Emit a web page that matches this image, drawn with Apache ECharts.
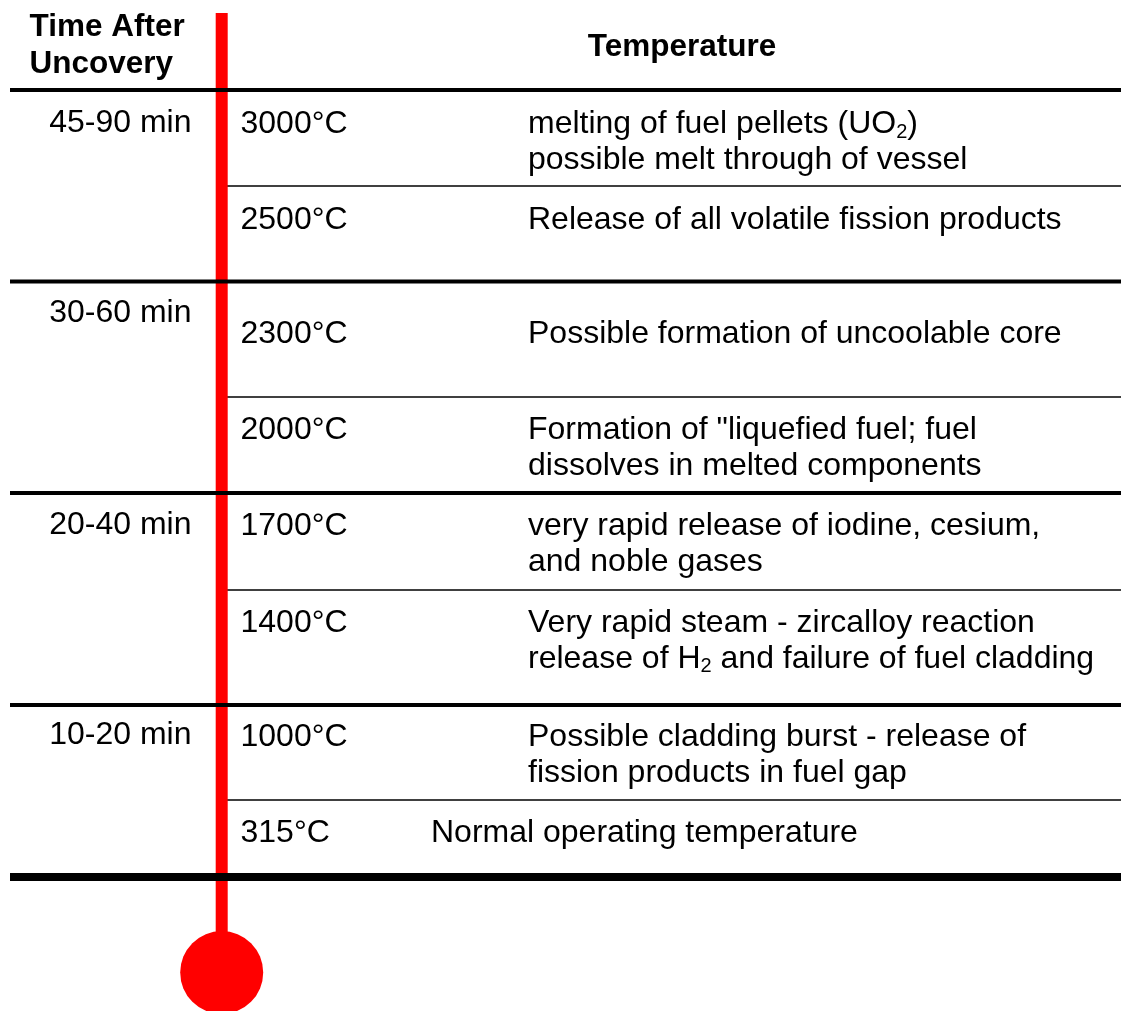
<!DOCTYPE html>
<html>
<head>
<meta charset="utf-8">
<title>Fuel temperature after core uncovery</title>
<script src="https://cdn.jsdelivr.net/npm/echarts@6/dist/echarts.min.js"></script>
<style>
  html, body { margin: 0; padding: 0; background: #fff; }
  #chart { width: 1121px; height: 1011px; }
</style>
</head>
<body>
<div id="chart"></div>
<script>
// table content
const timeRanges = ['45-90 min', '30-60 min', '20-40 min', '10-20 min']
const temperatures = ['3000°C', '2500°C', '2300°C', '2000°C', '1700°C', '1400°C', '1000°C', '315°C']
const descriptions = [
  'melting of fuel pellets (UO{sub|2})\npossible melt through of vessel',
  'Release of all volatile fission products',
  'Possible formation of uncoolable core',
  'Formation of "liquefied fuel; fuel\ndissolves in melted components',
  'very rapid release of iodine, cesium,\nand noble gases',
  'Very rapid steam - zircalloy reaction\nrelease of H{sub|2} and failure of fuel cladding',
  'Possible cladding burst - release of\nfission products in fuel gap',
  'Normal operating temperature'
]
const headers = ['Time After\nUncovery', 'Temperature']

// layout (canvas units, the axes map 1:1 onto the page)
const W = 1121, H = 1011
const rowTops = [90, 186, 281.5, 397, 493, 590, 705, 800]
const tableBottom = 877
const rowTextY = [122, 218, 332, 428, 524, 621, 735, 831]
const groupTextY = [120.5, 311, 522.5, 733]
const descX = [528, 528, 528, 528, 528, 528, 528, 431]
const lineGap = 35.5
const textShift = 2.5 // glyph centre sits a little above the 'middle' line

const font = '"Liberation Sans", Arial, Helvetica, sans-serif'
const subStyle = { fontSize: 20, lineHeight: 19, verticalAlign: 'bottom', fontFamily: font, fill: '#000' }

function textEl(api, x, y, text, extra) {
  const p = api.coord([x, y + textShift])
  return {
    type: 'text',
    x: p[0],
    y: p[1],
    style: Object.assign({
      text: text,
      fill: '#000',
      fontFamily: font,
      fontSize: 32,
      lineHeight: lineGap,
      align: 'left',
      verticalAlign: 'top'
    }, extra || {})
  }
}

function hLine(api, x0, x1, y, width) {
  const a = api.coord([x0, y])
  const b = api.coord([x1, y])
  return {
    type: 'line',
    shape: { x1: a[0], y1: a[1], x2: b[0], y2: b[1] },
    style: { stroke: '#000', lineWidth: width }
  }
}

const chart = echarts.init(document.getElementById('chart'))

chart.setOption({
  animation: false,
  backgroundColor: '#fff',
  grid: { left: 0, right: 0, top: 0, bottom: 0 },
  xAxis: { type: 'value', min: 0, max: W, show: false },
  yAxis: { type: 'value', min: 0, max: H, inverse: true, show: false },
  series: [
    {
      // thin rules between rows inside a time group
      type: 'custom',
      z: 1,
      data: rowTops.filter((y, i) => i % 2 === 1).map(y => [222, y]),
      renderItem(params, api) {
        return hLine(api, api.value(0), W, api.value(1), 1.6)
      }
    },
    {
      // thermometer
      type: 'custom',
      z: 2,
      data: [[221.7, tableBottom]],
      renderItem(params, api) {
        const cx = api.value(0)
        const top = api.coord([cx - 6, 13])
        const bottom = api.coord([cx + 6, 950])
        const c = api.coord([cx, 972.5])
        const r = api.size([41.5, 41.5])[0]
        return {
          type: 'group',
          children: [
            { type: 'rect', shape: { x: top[0], y: top[1], width: bottom[0] - top[0], height: bottom[1] - top[1] }, style: { fill: '#ff0000' } },
            { type: 'circle', shape: { cx: c[0], cy: c[1], r: r }, style: { fill: '#ff0000' } }
          ]
        }
      }
    },
    {
      // thick rules between time groups and table frame
      type: 'custom',
      z: 3,
      data: rowTops.filter((y, i) => i % 2 === 0).map(y => [10, y, 4]).concat([[10, tableBottom, 8]]),
      renderItem(params, api) {
        return hLine(api, api.value(0), W, api.value(1), api.value(2))
      }
    },
    {
      // temperatures and their effects
      type: 'custom',
      z: 4,
      data: temperatures.map((t, i) => [i]),
      renderItem(params, api) {
        const i = api.value(0)
        const y = rowTextY[i] - lineGap / 2
        return {
          type: 'group',
          children: [
            textEl(api, 240.5, y, temperatures[i]),
            textEl(api, descX[i], y, descriptions[i], { rich: { sub: subStyle } })
          ]
        }
      }
    },
    {
      // time after uncovery
      type: 'custom',
      z: 4,
      data: timeRanges.map((t, i) => [i]),
      renderItem(params, api) {
        const i = api.value(0)
        return textEl(api, 191.5, groupTextY[i] - lineGap / 2, timeRanges[i], { align: 'right' })
      }
    },
    {
      // column headers
      type: 'custom',
      z: 4,
      data: [[0]],
      renderItem(params, api) {
        return {
          type: 'group',
          children: [
            textEl(api, 29.5, 25 - 18.25, headers[0], { fontWeight: 'bold', fontSize: 31.5, lineHeight: 36.5 }),
            textEl(api, 682, 45 - 18.25, headers[1], { fontWeight: 'bold', fontSize: 31.5, lineHeight: 36.5, align: 'center' })
          ]
        }
      }
    }
  ]
})
</script>
</body>
</html>
